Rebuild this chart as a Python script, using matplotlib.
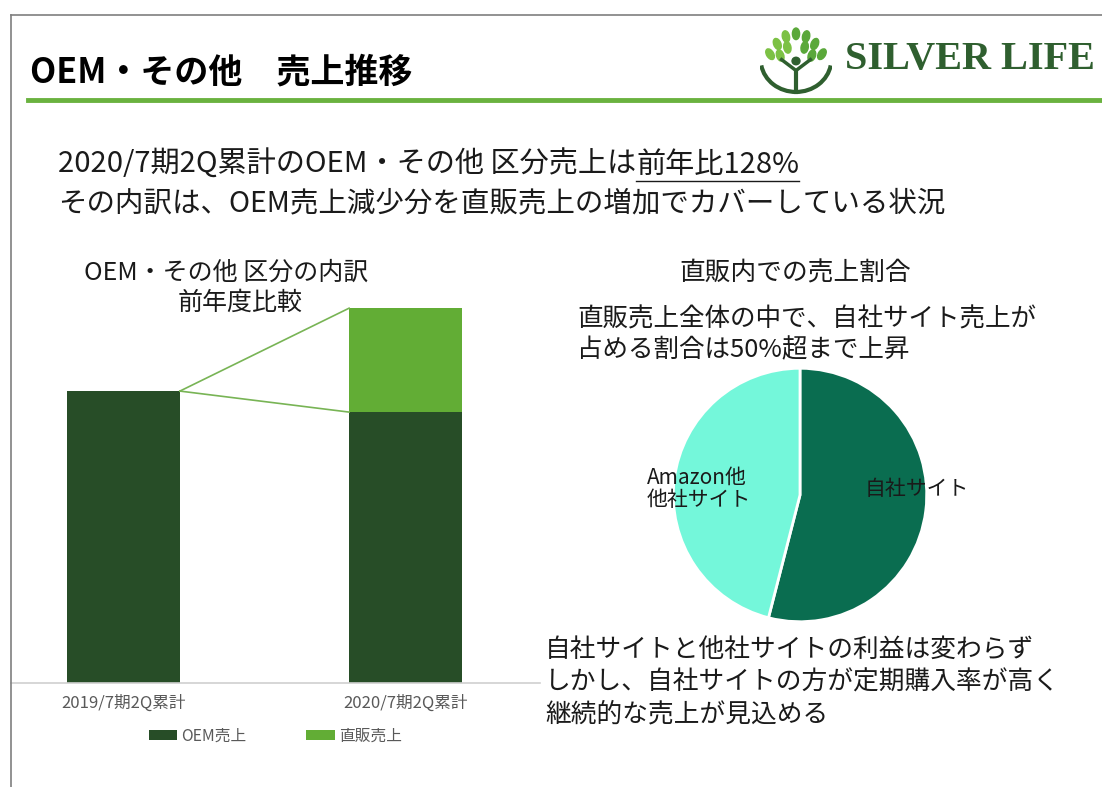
import numpy as np
import matplotlib.pyplot as plt
from matplotlib.patches import Ellipse, Arc, Circle
from matplotlib.lines import Line2D

plt.rcParams['font.family'] = ['Noto Sans CJK JP', 'DejaVu Sans']

# bar chart data (index, 2019 OEM = 100)
periods = ['2019/7期2Q累計', '2020/7期2Q累計']
oem_sales = [100.0, 92.8]
direct_sales = [0.0, 35.6]
bar_legend = ['OEM売上', '直販売上']

# pie data (share of direct sales, %)
pie_labels = ['自社サイト', 'Amazon他\n他社サイト']
pie_shares = [54, 46]

dark_green = '#274d27'
light_green = '#62ad35'
W, H = 1102, 787


def fx(px):
    return px / W


def fy(py):
    return 1 - py / H


fig = plt.figure(figsize=(11.02, 7.87), dpi=100)
fig.patch.set_facecolor('white')

# slide frame
fig.add_artist(Line2D([fx(11), fx(11)], [0, fy(15)], color='#7f7f7f', lw=1.2))
fig.add_artist(Line2D([fx(11), 1], [fy(15), fy(15)], color='#7f7f7f', lw=1.2))

# title + green rule
fig.text(fx(30), fy(72), 'OEM・その他　売上推移', fontsize=24.5, fontweight='bold',
         va='center', ha='left', color='black')
fig.add_artist(Line2D([fx(28), 1], [fy(100), fy(100)], color='#6ab23f', lw=3.5))

# logo
fig.text(fx(845), fy(60), 'SILVER LIFE', fontsize=29, family='Liberation Serif', fontweight='bold',
         color='#2f5f2f', va='center', ha='left')
lax = fig.add_axes([fx(760), fy(95), fx(72), 68 / H])
lax.set_xlim(0, 1)
lax.set_ylim(0, 1)
lax.axis('off')
lax.add_patch(Arc((0.5, 0.52), 0.98, 0.95, theta1=190, theta2=350, color='#2f5f2f', lw=3))
leaf_pos = [(0.5, 0.9), (0.36, 0.86), (0.64, 0.86), (0.24, 0.75), (0.76, 0.75),
            (0.38, 0.7), (0.62, 0.7), (0.14, 0.6), (0.86, 0.6), (0.28, 0.58), (0.72, 0.58)]
for i, (lx, ly) in enumerate(leaf_pos):
    lax.add_patch(Ellipse((lx, ly), 0.1, 0.17, angle=(lx - 0.5) * -80,
                          color='#7cc144' if i % 2 else '#5aa83a'))
lax.add_patch(Circle((0.5, 0.5), 0.055, color='#2f5f2f'))
lax.plot([0.3, 0.5, 0.7], [0.52, 0.36, 0.52], color='#2f5f2f', lw=2.5)
lax.plot([0.5, 0.5], [0.36, 0.05], color='#2f5f2f', lw=3)

# headline texts (second part underlined)
renderer = fig.canvas.get_renderer()
t1 = fig.text(fx(58), fy(165), '2020/7期2Q累計のOEM・その他 区分売上は', fontsize=21,
              va='center', ha='left', color='#1a1a1a')
bb = t1.get_window_extent(renderer)
t2 = fig.text(bb.x1 / W, fy(165), '前年比128%', fontsize=21, va='center', ha='left', color='#1a1a1a')
bb2 = t2.get_window_extent(renderer)
fig.add_artist(Line2D([bb2.x0 / W, bb2.x1 / W], [fy(181), fy(181)], color='#1a1a1a', lw=1))
fig.text(fx(58), fy(203), 'その内訳は、OEM売上減少分を直販売上の増加でカバーしている状況', fontsize=20.5,
         va='center', ha='left', color='#1a1a1a')

# bar chart
ax = fig.add_axes([fx(11), 1 - 683 / H, fx(529), 383 / H])
x = np.arange(len(periods))
w = 0.4
ax.bar(x, oem_sales, w, color=dark_green, label=bar_legend[0])
ax.bar(x, direct_sales, w, bottom=oem_sales, color=light_green, label=bar_legend[1])
total_2020 = oem_sales[1] + direct_sales[1]
ax.plot([x[0] + w / 2, x[1] - w / 2], [oem_sales[0], total_2020], color='#78b455', lw=1.2)
ax.plot([x[0] + w / 2, x[1] - w / 2], [oem_sales[0], oem_sales[1]], color='#78b455', lw=1.2)
ax.set_xlim(-0.399, 1.477)
ax.set_ylim(0, 131.2)
for s in ['top', 'right', 'left']:
    ax.spines[s].set_visible(False)
ax.spines['bottom'].set_color('#d0d0d0')
ax.spines['bottom'].set_linewidth(1.2)
ax.set_yticks([])
ax.set_xticks(x)
ax.set_xticklabels(periods, fontsize=12, color='#595959')
ax.tick_params(axis='x', length=0, pad=8)
ax.legend(loc='upper center', bbox_to_anchor=(0.5, -0.08), ncol=2, frameon=False,
          fontsize=11.3, handlelength=1.8, handleheight=0.6, handletextpad=0.3,
          columnspacing=3.8, labelcolor='#595959')

fig.text(fx(226), fy(273), 'OEM・その他 区分の内訳', fontsize=18, ha='center', va='center', color='#1a1a1a')
fig.text(fx(240), fy(303), '前年度比較', fontsize=18, ha='center', va='center', color='#1a1a1a')

# pie chart
pax = fig.add_axes([fx(672), 1 - 623 / H, fx(256), 256 / H])
pax.pie(pie_shares, colors=['#0a6d50', '#74f7da'], startangle=90, counterclock=False,
        wedgeprops=dict(edgecolor='white', linewidth=2))
pax.set_xlim(-1.01, 1.01)
pax.set_ylim(-1.01, 1.01)
pax.text(0.51, 0.05, pie_labels[0], fontsize=15, ha='left', va='center', color='#1a1a1a')
pax.text(-1.21, 0.05, pie_labels[1], fontsize=15, ha='left', va='center', color='#1a1a1a',
         linespacing=1.0)

fig.text(fx(795), fy(273), '直販内での売上割合', fontsize=18.5, ha='center', va='center', color='#1a1a1a')
fig.text(fx(577), fy(320), '直販売上全体の中で、自社サイト売上が', fontsize=18.4, ha='left', va='center', color='#1a1a1a')
fig.text(fx(577), fy(350), '占める割合は50%超まで上昇', fontsize=18.4, ha='left', va='center', color='#1a1a1a')

fig.text(fx(545), fy(651), '自社サイトと他社サイトの利益は変わらず', fontsize=18.5, ha='left', va='center', color='#1a1a1a')
fig.text(fx(545), fy(683), 'しかし、自社サイトの方が定期購入率が高く', fontsize=18.5, ha='left', va='center', color='#1a1a1a')
fig.text(fx(545), fy(714), '継続的な売上が見込める', fontsize=18.5, ha='left', va='center', color='#1a1a1a')

fig.savefig('out.png', dpi=100)
